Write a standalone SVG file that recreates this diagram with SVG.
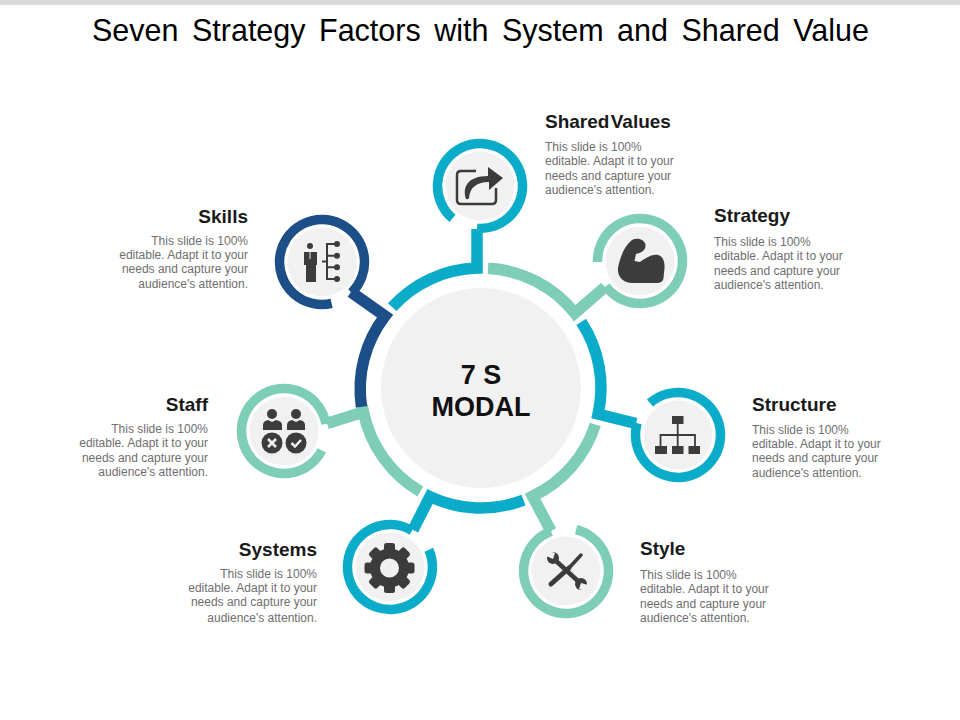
<svg xmlns="http://www.w3.org/2000/svg" width="960" height="720" viewBox="0 0 960 720">
<style>
text{font-family:"Liberation Sans",Arial,sans-serif}
.title{font-size:30.500px;fill:#000;word-spacing:5px}
.h{font-size:19px;font-weight:bold;fill:#1a1a1a}
.b{font-size:12px;fill:#6e6e6e}
.e{text-anchor:end}
.c{font-size:27px;font-weight:bold;fill:#111;text-anchor:middle}
.a{fill:none;stroke-width:11.500;stroke-linejoin:miter;stroke-miterlimit:6}
.r{fill:none;stroke-width:9.500}
.teal{stroke:#0bacca}
.green{stroke:#7ecdb7}
.navy{stroke:#1c4e88}
.g{fill:#f1f1f1}
.i{fill:#3c3c3c}
.l{fill:none;stroke:#3c3c3c}
</style>
<rect x="0" y="0" width="960" height="5" fill="#d9d9d9"/>
<text class="title" x="92" y="41">Seven Strategy Factors with System and Shared Value</text>
<g id="connectors">
<path class="a teal" d="M392.200,307.200A120,120 0 0 1 477,268.100V229"/>
<path class="a green" d="M488,268.200A120,120 0 0 1 574.800,313.200L605,287"/>
<path class="a teal" d="M581.200,321.900A120,120 0 0 1 598.100,414L636,423.500"/>
<path class="a green" d="M595.300,424.400A120,120 0 0 1 532.600,496.300L551,531"/>
<path class="a teal" d="M523.500,500.200A120,120 0 0 1 430,496.600L413,530"/>
<path class="a green" d="M420.300,491.500A120,120 0 0 1 363.400,412L327,423.500"/>
<path class="a navy" d="M361.500,406.900A120,120 0 0 1 385,316L351,292"/>
</g>
<g id="center">
<circle class="g" cx="481" cy="388" r="100"/>
<text class="c" x="481" y="384">7 S</text>
<text class="c" x="481" y="416">MODAL</text>
</g>
<g id="shared-values">
<path class="r teal" d="M452.500,218.400A42.500,42.500 0 1 1 477,228.400"/>
<circle class="g" cx="480" cy="186" r="34.500"/>
<path class="l" stroke-width="2.500" d="M476,171H461Q457,171 457,175V200Q457,204 461,204H492Q496,204 496,200V188"/>
<path class="i" d="M466,199C462,187 468,176 488,176V167L503,178L489,190V182C477,182 470,187 469,198Q468,200 466,199Z"/>
<text class="h" x="545" y="128" word-spacing="-4">Shared Values</text>
<text class="b"><tspan x="545" y="151">This slide is 100%</tspan><tspan x="545" y="165">editable. Adapt it to your</tspan><tspan x="545" y="179.500">needs and capture your</tspan><tspan x="545" y="194">audience's attention.</tspan></text>
</g>
<g id="strategy">
<path class="r green" d="M597.500,262A42.500,42.500 0 1 1 605.800,286.200"/>
<circle class="g" cx="640" cy="261" r="34.500"/>
<path class="i" d="M618,268C620,258 624,246 632,240C638,237 645,240 645.500,245C646,250 641,253 636,254L634.500,261L640,262C646,258 652,254 658,255C663,256 665,262 664.500,268L663.500,278C663,282 660,283 656,283H632C624,283 617,277 618,268Z"/>
<text class="h" x="714" y="222">Strategy</text>
<text class="b"><tspan x="714" y="246">This slide is 100%</tspan><tspan x="714" y="260">editable. Adapt it to your</tspan><tspan x="714" y="274.500">needs and capture your</tspan><tspan x="714" y="289">audience's attention.</tspan></text>
</g>
<g id="structure">
<path class="r teal" d="M650,403A42.500,42.500 0 1 1 637.200,423.100"/>
<circle class="g" cx="678" cy="435" r="34.500"/>
<rect class="i" x="672" y="416" width="11.500" height="8"/>
<rect class="i" x="655" y="446" width="12" height="8"/>
<rect class="i" x="672" y="446" width="11.500" height="8"/>
<rect class="i" x="688.500" y="446" width="11.500" height="8"/>
<path class="l" stroke-width="1.800" d="M677.700,424V446M660.500,446V435H695V446"/>
<text class="h" x="752" y="411">Structure</text>
<text class="b"><tspan x="752" y="433.500">This slide is 100%</tspan><tspan x="752" y="448">editable. Adapt it to your</tspan><tspan x="752" y="462">needs and capture your</tspan><tspan x="752" y="476.500">audience's attention.</tspan></text>
</g>
<g id="style">
<path class="r green" d="M576.100,529.700A42.500,42.500 0 1 1 551.100,531.200"/>
<circle class="g" cx="566" cy="571" r="34.500"/>
<path class="l" stroke-width="5" stroke-linecap="round" d="M551,584L569,568"/>
<path class="l" stroke-width="3.500" stroke-linecap="round" d="M569,568L581,555"/>
<path class="l" stroke-width="4.500" d="M555,560L579,582"/>
<circle class="i" cx="553" cy="558" r="6"/>
<circle class="i" cx="581" cy="584" r="6"/>
<path class="g" d="M553,559L546,556L549,551L555,553Z"/>
<path class="g" d="M581,583L588,585L585,591L579,589Z"/>
<text class="h" x="640" y="555">Style</text>
<text class="b"><tspan x="640" y="579">This slide is 100%</tspan><tspan x="640" y="593">editable. Adapt it to your</tspan><tspan x="640" y="607.500">needs and capture your</tspan><tspan x="640" y="622">audience's attention.</tspan></text>
</g>
<g id="systems">
<path class="r teal" d="M428.800,549.700A42.500,42.500 0 1 1 412,530.600"/>
<circle class="g" cx="390" cy="567" r="34.500"/>
<circle cx="389.500" cy="568" r="14.500" fill="none" stroke="#3c3c3c" stroke-width="10"/>
<g class="i">
<rect x="384" y="543" width="11" height="10" rx="2.500"/>
<rect x="384" y="543" width="11" height="10" rx="2.500" transform="rotate(45 389.500 568)"/>
<rect x="384" y="543" width="11" height="10" rx="2.500" transform="rotate(90 389.500 568)"/>
<rect x="384" y="543" width="11" height="10" rx="2.500" transform="rotate(135 389.500 568)"/>
<rect x="384" y="543" width="11" height="10" rx="2.500" transform="rotate(180 389.500 568)"/>
<rect x="384" y="543" width="11" height="10" rx="2.500" transform="rotate(225 389.500 568)"/>
<rect x="384" y="543" width="11" height="10" rx="2.500" transform="rotate(270 389.500 568)"/>
<rect x="384" y="543" width="11" height="10" rx="2.500" transform="rotate(315 389.500 568)"/>
</g>
<text class="h e" x="317" y="556">Systems</text>
<text class="b e"><tspan x="317" y="578">This slide is 100%</tspan><tspan x="317" y="592">editable. Adapt it to your</tspan><tspan x="317" y="606">needs and capture your</tspan><tspan x="317" y="621.500">audience's attention.</tspan></text>
</g>
<g id="staff">
<path class="r green" d="M321.800,450.400A42.500,42.500 0 1 1 325.900,424"/>
<circle class="g" cx="284" cy="431" r="34.500"/>
<circle class="i" cx="272" cy="414" r="5"/>
<circle class="i" cx="296" cy="414" r="5"/>
<path class="i" d="M263,430V425Q263,421 268,420L272,422L276,420Q282,421 282,425V430Z"/>
<path class="i" d="M287,430V425Q287,421 292,420L296,422L300,420Q305,421 305,425V430Z"/>
<circle class="i" cx="272" cy="443" r="10.500"/>
<circle class="i" cx="296" cy="443" r="10.500"/>
<path fill="none" stroke="#f1f1f1" stroke-width="2.500" d="M268,439L276,447M276,439L268,447M291.500,443L295,446.500L301,440"/>
<text class="h e" x="208" y="411">Staff</text>
<text class="b e"><tspan x="208" y="433">This slide is 100%</tspan><tspan x="208" y="447">editable. Adapt it to your</tspan><tspan x="208" y="461.500">needs and capture your</tspan><tspan x="208" y="476">audience's attention.</tspan></text>
</g>
<g id="skills">
<path class="r navy" d="M331.600,303.400A42.500,42.500 0 1 1 351.500,292.600"/>
<circle class="g" cx="322" cy="262" r="34.500"/>
<circle class="i" cx="310" cy="246" r="3"/>
<path class="i" d="M304,252H309.500V259H310.500V252H317V265H316V282H306V265H304Z"/>
<path class="l" stroke-width="2" d="M335,244H327V279H335M322,261.500H327M327,255.700H335M327,267.300H335"/>
<circle class="i" cx="337" cy="244" r="3"/>
<circle class="i" cx="337" cy="255.700" r="3"/>
<circle class="i" cx="337" cy="267.300" r="3"/>
<circle class="i" cx="337" cy="279" r="3"/>
<text class="h e" x="248" y="223">Skills</text>
<text class="b e"><tspan x="248" y="245">This slide is 100%</tspan><tspan x="248" y="259">editable. Adapt it to your</tspan><tspan x="248" y="273">needs and capture your</tspan><tspan x="248" y="288">audience's attention.</tspan></text>
</g>
</svg>
